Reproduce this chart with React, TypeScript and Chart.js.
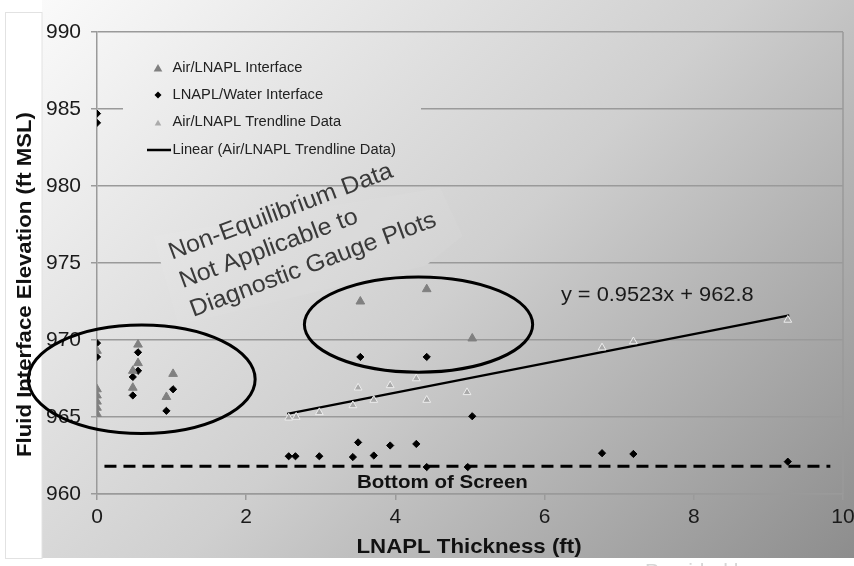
import { useEffect, useRef } from 'react';
import { Chart, registerables } from 'chart.js';

Chart.register(...registerables);

// Air/LNAPL interface (dark gray triangles)
const airLnaplX = [0, 0, 0, 0, 0, 0, 0.48, 0.48, 0.55, 0.55, 0.93, 1.02, 3.53, 4.42, 5.03];
const airLnaplY = [969.3, 966.8, 966.4, 966.0, 965.6, 965.2, 968.0, 966.9, 969.7, 968.5, 966.3, 967.8, 972.5, 973.3, 970.1];

// LNAPL/Water interface (black diamonds)
const waterX = [0, 0, 0, 0, 0.48, 0.48, 0.55, 0.55, 0.93, 1.02, 3.53, 4.42, 5.03,
  2.57, 2.66, 2.98, 3.43, 3.5, 3.71, 3.93, 4.28, 4.42, 4.97, 6.77, 7.19, 9.26];
const waterY = [984.7, 984.1, 969.8, 968.9, 967.6, 966.4, 969.2, 968.0, 965.4, 966.8, 968.9, 968.9, 965.05,
  962.45, 962.45, 962.45, 962.4, 963.35, 962.5, 963.15, 963.25, 961.75, 961.75, 962.65, 962.6, 962.1];

// Air/LNAPL trendline data (light triangles)
const trendDataX = [2.57, 2.67, 2.98, 3.43, 3.5, 3.71, 3.93, 4.28, 4.42, 4.96, 6.77, 7.19, 9.26];
const trendDataY = [964.95, 965.0, 965.3, 965.75, 966.9, 966.1, 967.05, 967.5, 966.1, 966.6, 969.5, 969.9, 971.3];

// linear trendline ends
const trendLineX = [2.55, 9.28];
const trendLineY = [965.2, 971.6];

// bottom of screen
const screenX = [0.1, 9.83];
const screenY = [961.8, 961.8];

const xTicks = { min: 0, max: 10, step: 2 };
const yTicks = { min: 960, max: 990, step: 5 };

const labels = [
  'Air/LNAPL Interface',
  'LNAPL/Water Interface',
  'Air/LNAPL Trendline Data',
  'Linear (Air/LNAPL Trendline Data)',
];
const equation = 'y = 0.9523x + 962.8';
const noteLines = ['Non-Equilibrium Data', 'Not Applicable to', 'Diagnostic Gauge Plots'];

// annotation ellipses in data units: [cx, cy, rx, ry]
const ellipses = [
  [0.6, 967.45, 1.52, 3.52],
  [4.31, 971.0, 1.53, 3.09],
];
// shape behind the note text, in data units
const noteBox = [[0.755, 976.76], [4.6, 979.9], [4.9, 976.76], [4.4, 974.8], [1.09, 970.97]];

const FONT = 'Arial, "Liberation Sans", sans-serif';

function toPts(xs: number[], ys: number[]) {
  return xs.map((x, i) => ({ x, y: ys[i] }));
}

function bgGradient(ctx: CanvasRenderingContext2D) {
  const g = ctx.createLinearGradient(42, 0, 742, 700);
  g.addColorStop(0, '#fafafa');
  g.addColorStop(0.5, '#cfcfcf');
  g.addColorStop(1, '#8a8a8a');
  return g;
}

function text(ctx: CanvasRenderingContext2D, s: string, x: number, y: number, size: number,
  weight: string, color: string, sx = 1, angle = 0, align: CanvasTextAlign = 'center',
  baseline: CanvasTextBaseline = 'middle') {
  ctx.save();
  ctx.font = `${weight} ${size}px ${FONT}`;
  ctx.translate(x, y);
  ctx.rotate(angle);
  ctx.scale(sx, 1);
  ctx.fillStyle = color;
  ctx.textAlign = align;
  ctx.textBaseline = baseline;
  ctx.fillText(s, 0, 0);
  ctx.restore();
}

function triangle(ctx: CanvasRenderingContext2D, x: number, y: number, r: number) {
  ctx.beginPath();
  ctx.moveTo(x, y - r);
  ctx.lineTo(x + r * 0.866, y + r * 0.5);
  ctx.lineTo(x - r * 0.866, y + r * 0.5);
  ctx.closePath();
}

const decorPlugin = {
  id: 'decor',
  beforeDraw(chart: any) {
    const { ctx, width, height } = chart;
    ctx.save();
    ctx.fillStyle = '#ffffff';
    ctx.fillRect(0, 0, width, height);
    ctx.fillStyle = bgGradient(ctx);
    ctx.fillRect(42, 0, width - 42, 558);
    ctx.strokeStyle = '#e2e2e2';
    ctx.lineWidth = 1;
    ctx.strokeRect(5.5, 12.5, 36.5, 546);
    text(ctx, 'Provided by', 645, 578, 20, 'normal', '#d6d6d6', 1.05, 0, 'left', 'alphabetic');
    ctx.restore();
  },
  beforeDatasetsDraw(chart: any) {
    const { ctx, chartArea, scales } = chart;
    const { x, y } = scales;
    ctx.save();
    // legend box hides the gridline under it
    ctx.fillStyle = bgGradient(ctx);
    ctx.fillRect(chartArea.left + 26, chartArea.top + 16, 298, 120);
    // note box
    ctx.beginPath();
    noteBox.forEach(([bx, by], i) => {
      const px = x.getPixelForValue(bx);
      const py = y.getPixelForValue(by);
      if (i === 0) ctx.moveTo(px, py); else ctx.lineTo(px, py);
    });
    ctx.closePath();
    ctx.fill();
    ctx.fillStyle = 'rgba(255,255,255,0.05)';
    ctx.fill();
    // right border
    ctx.strokeStyle = '#9a9a9a';
    ctx.lineWidth = 1.5;
    ctx.beginPath();
    ctx.moveTo(chartArea.right, chartArea.top);
    ctx.lineTo(chartArea.right, chartArea.bottom);
    ctx.stroke();
    ctx.restore();
  },
  afterDatasetsDraw(chart: any) {
    const { ctx, chartArea, scales } = chart;
    const { x, y } = scales;
    ctx.save();
    // ellipses
    ctx.strokeStyle = '#000';
    ctx.lineWidth = 3;
    ellipses.forEach(([cx, cy, rx, ry]) => {
      const px = x.getPixelForValue(cx);
      const py = y.getPixelForValue(cy);
      const prx = Math.abs(x.getPixelForValue(cx + rx) - px);
      const pry = Math.abs(y.getPixelForValue(cy + ry) - py);
      ctx.beginPath();
      ctx.ellipse(px, py, prx, pry, 0, 0, Math.PI * 2);
      ctx.stroke();
    });

    // note text
    const ang = -20.5 * Math.PI / 180;
    const ox = x.getPixelForValue(1.005);
    const oy = y.getPixelForValue(975.21);
    noteLines.forEach((s, i) => {
      const v = i * 30.5;
      const lx = ox - Math.sin(ang) * v;
      const ly = oy + Math.cos(ang) * v;
      text(ctx, s, lx, ly, 24, 'normal', '#3a3a3a', 1.04, ang, 'left', 'alphabetic');
    });

    text(ctx, equation, x.getPixelForValue(7.51), y.getPixelForValue(972.92), 20, 'normal', '#1a1a1a', 1.09);
    text(ctx, 'Bottom of Screen', x.getPixelForValue(4.63), y.getPixelForValue(960.74), 19, 'bold', '#111', 1.08);

    // axis titles
    text(ctx, 'LNAPL Thickness (ft)', 469, 553, 21, 'bold', '#111', 1.06, 0, 'center', 'alphabetic');
    text(ctx, 'Fluid Interface Elevation (ft MSL)', 25, 284.5, 21, 'bold', '#111', 1.056, -Math.PI / 2);

    // legend
    const mx = chartArea.left + 61;
    const tx = chartArea.left + 75.5;
    const rows = [chartArea.top + 36, chartArea.top + 63, chartArea.top + 90.5, chartArea.top + 118];
    ctx.fillStyle = '#808080';
    triangle(ctx, mx, rows[0] + 1, 5);
    ctx.fill();
    ctx.fillStyle = '#000';
    ctx.beginPath();
    ctx.moveTo(mx, rows[1] - 3.5);
    ctx.lineTo(mx + 3.5, rows[1]);
    ctx.lineTo(mx, rows[1] + 3.5);
    ctx.lineTo(mx - 3.5, rows[1]);
    ctx.closePath();
    ctx.fill();
    ctx.fillStyle = '#ababab';
    triangle(ctx, mx, rows[2] + 1, 3.8);
    ctx.fill();
    ctx.strokeStyle = '#000';
    ctx.lineWidth = 2.5;
    ctx.beginPath();
    ctx.moveTo(mx - 11, rows[3]);
    ctx.lineTo(mx + 13, rows[3]);
    ctx.stroke();
    labels.forEach((s, i) => {
      text(ctx, s, tx, rows[i], 14, 'normal', '#222', 1.05, 0, 'left', 'middle');
    });
    ctx.restore();
  },
};

export default function App() {
  const chartRef = useRef<HTMLCanvasElement>(null);
  const chartInstance = useRef<Chart | null>(null);

  useEffect(() => {
    if (!chartRef.current) return;
    if (chartInstance.current) chartInstance.current.destroy();
    const ctx = chartRef.current.getContext('2d');
    if (!ctx) return;

    const gridColor = '#9a9a9a';

    chartInstance.current = new Chart(ctx, {
      type: 'scatter',
      data: {
        datasets: [
          {
            label: labels[0],
            data: toPts(airLnaplX, airLnaplY),
            pointStyle: 'triangle',
            pointRadius: 5,
            backgroundColor: '#808080',
            borderColor: '#808080',
            borderWidth: 1,
          },
          {
            label: labels[1],
            data: toPts(waterX, waterY),
            pointStyle: 'rectRot',
            pointRadius: 3.6,
            backgroundColor: '#000',
            borderColor: '#000',
            borderWidth: 1,
          },
          {
            label: labels[2],
            data: toPts(trendDataX, trendDataY),
            pointStyle: 'triangle',
            pointRadius: 4.5,
            backgroundColor: '#a9a9a9',
            borderColor: '#eeeeee',
            borderWidth: 1,
          },
          {
            label: labels[3],
            data: toPts(trendLineX, trendLineY),
            showLine: true,
            pointRadius: 0,
            borderColor: '#000',
            borderWidth: 2.2,
          },
          {
            label: 'Bottom of Screen',
            data: toPts(screenX, screenY),
            showLine: true,
            pointRadius: 0,
            borderColor: '#000',
            borderWidth: 3,
            borderDash: [12, 7],
          },
        ],
      },
      options: {
        responsive: true,
        maintainAspectRatio: false,
        animation: false,
        layout: { padding: { left: 0, top: 32, right: 11, bottom: 0 } },
        plugins: {
          legend: { display: false },
          tooltip: { enabled: false },
        },
        scales: {
          x: {
            type: 'linear',
            min: xTicks.min,
            max: xTicks.max,
            ticks: {
              stepSize: xTicks.step,
              color: '#1a1a1a',
              font: { family: FONT, size: 21 },
              padding: 5,
              maxRotation: 0,
            },
            grid: { drawOnChartArea: false, drawTicks: true, tickLength: 6, color: gridColor, lineWidth: 1.5 },
            border: { color: gridColor, width: 1.5 },
            afterFit: (s: any) => {
              s.height = 72;
              s.paddingLeft = 0;
              s.paddingRight = 0;
            },
          },
          y: {
            type: 'linear',
            min: yTicks.min,
            max: yTicks.max,
            ticks: {
              stepSize: yTicks.step,
              color: '#1a1a1a',
              font: { family: FONT, size: 21 },
              padding: 10,
            },
            grid: { color: gridColor, lineWidth: 1.5, tickLength: 6 },
            border: { color: gridColor, width: 1.5 },
            afterFit: (s: any) => {
              s.width = 97;
              s.paddingTop = 0;
              s.paddingBottom = 0;
            },
          },
        },
      },
      plugins: [decorPlugin],
    });

    return () => {
      if (chartInstance.current) {
        chartInstance.current.destroy();
        chartInstance.current = null;
      }
    };
  }, []);

  return (
    <div style={{ position: 'absolute', left: 0, top: 0, width: 854, height: 566 }}>
      <canvas ref={chartRef} />
    </div>
  );
}
